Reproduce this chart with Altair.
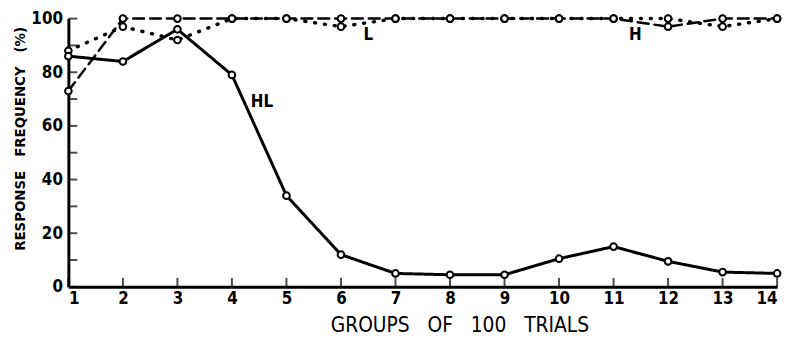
import altair as alt
import pandas as pd

groups = list(range(1, 15))
hl_values = [86, 84, 96, 79, 34, 12, 5, 4.5, 4.5, 10.5, 15, 9.5, 5.5, 5]
h_values = [73, 100, 100, 100, 100, 100, 100, 100, 100, 100, 100, 97, 100, 100]
l_values = [88, 97, 92, 100, 100, 97, 100, 100, 100, 100, 100, 100, 97, 100]

label_text = ["HL", "L", "H"]
label_x = [4.55, 6.5, 11.4]
label_y = [69, 94, 94]

y_tick_values = [0, 10, 20, 30, 40, 50, 60, 70, 80, 90, 100]
x_tick_values = groups

FONT = "DejaVu Sans Condensed"
SP = "\u00a0\u00a0\u00a0"

df = pd.DataFrame({
    "group": groups * 3,
    "value": hl_values + h_values + l_values,
    "series": ["HL"] * 14 + ["H"] * 14 + ["L"] * 14,
})
labels = pd.DataFrame({"text": label_text, "group": label_x, "value": label_y})
yt = pd.DataFrame({"v": y_tick_values})
xt = pd.DataFrame({"g": x_tick_values})

xs = alt.Scale(domain=[1, 14], nice=False, zero=False)
ys = alt.Scale(domain=[0, 100], nice=False)

x_axis = alt.Axis(values=x_tick_values, ticks=False, grid=False,
                  title=f"GROUPS{SP}OF{SP}100{SP}TRIALS",
                  labelFontSize=17, labelFont=FONT, labelFontWeight="bold", labelPadding=4,
                  titleFontSize=21, titleFont=FONT, titleFontWeight="normal",
                  titleX=395, titleY=39, titleBaseline="middle", titleAnchor="middle",
                  domainWidth=3, domainColor="black", labelColor="black", titleColor="black")
y_axis = alt.Axis(values=y_tick_values, ticks=False, grid=False,
                  title=f"RESPONSE{SP}FREQUENCY{SP}(%)",
                  labelExpr="datum.value % 20 == 0 ? datum.label : ''",
                  labelFontSize=17, labelFont=FONT, labelFontWeight="bold", labelPadding=6,
                  titleFontSize=15, titleFont=FONT, titleFontWeight="bold",
                  titleX=-49, titleY=121, titleBaseline="middle", titleAnchor="middle",
                  domainWidth=3, domainColor="black", labelColor="black", titleColor="black")

base = alt.Chart(df)

def series_layer(name, dash, width):
    d = base.transform_filter(alt.datum.series == name)
    line = d.mark_line(color="black", strokeWidth=width, strokeDash=dash, strokeCap="round").encode(
        x=alt.X("group:Q", scale=xs, axis=x_axis),
        y=alt.Y("value:Q", scale=ys, axis=y_axis),
    )
    pts = d.mark_point(shape="circle", filled=True, fill="white", stroke="black", strokeWidth=2,
                       size=45, opacity=1).encode(x="group:Q", y="value:Q")
    return line, pts

hl_line, hl_pts = series_layer("HL", [1, 0], 3)
h_line, h_pts = series_layer("H", [11, 6], 2.5)
l_line, l_pts = series_layer("L", [1, 9], 3.5)

text = alt.Chart(labels).mark_text(font=FONT, fontSize=17, fontWeight="bold", color="black").encode(
    x=alt.X("group:Q", scale=xs), y=alt.Y("value:Q", scale=ys), text="text:N")

ytick = alt.Chart(yt).mark_tick(orient="horizontal", size=9, thickness=2, color="black", xOffset=4.5).encode(
    x=alt.datum(1, scale=xs), y=alt.Y("v:Q", scale=ys))
xtick = alt.Chart(xt).mark_tick(orient="vertical", size=9, thickness=2, color="black", yOffset=-4.5).encode(
    x=alt.X("g:Q", scale=xs), y=alt.datum(0, scale=ys))

chart = alt.layer(h_line, l_line, hl_line, ytick, xtick, h_pts, l_pts, hl_pts, text).properties(
    width=716, height=271, background="white",
    autosize=alt.AutoSizeParams(type="none"),
    padding={"left": 61, "top": 9, "right": 12, "bottom": 52},
).configure_view(stroke=None)

chart.save("out.html", embed_options={"renderer": "svg", "actions": False})
